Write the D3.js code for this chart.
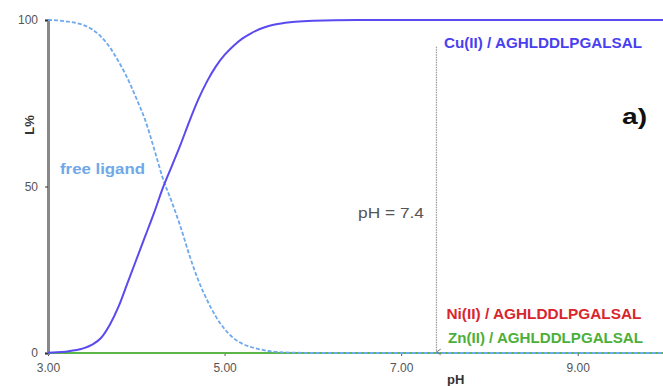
<!DOCTYPE html>
<html>
<head>
<meta charset="UTF-8">
<script src="https://d3js.org/d3.v7.min.js"></script>
<style>
  body { margin: 0; background: #fff; }
  text { font-family: "Liberation Sans", Arial, sans-serif; }
</style>
</head>
<body>
<div id="chart"></div>
<script>

// pH grid and species distribution (% of ligand)
var phValues   = [3.0, 3.1, 3.2, 3.3, 3.4, 3.5, 3.6, 3.7, 3.8, 3.9, 4.0, 4.1, 4.2, 4.3, 4.4, 4.5, 4.6, 4.7, 4.8, 4.9, 5.0, 5.1, 5.2, 5.3, 5.4, 5.5, 5.6, 5.8, 6.0, 6.5, 7.0, 8.0, 9.0, 10.0];
var cuValues   = [0.1, 0.2, 0.4, 0.8, 1.4, 2.5, 4.5, 8.5, 14, 21, 28, 35, 42, 49.5, 56, 62.5, 69.5, 76, 81.5, 86, 89.5, 92.2, 94.4, 96, 97.3, 98.2, 98.8, 99.5, 99.8, 100, 100, 100, 100, 100];
var freeValues = [100, 99.9, 99.6, 99.2, 98.5, 97.2, 95, 91.8, 87.5, 82.5, 76.5, 70, 61.5, 52.5, 45.5, 38, 29.5, 22, 16, 11, 7.2, 4.5, 2.8, 1.8, 1.1, 0.6, 0.3, 0.1, 0, 0, 0, 0, 0, 0];
var niValues   = [0, 0, 0, 0, 0, 0, 0, 0, 0, 0, 0, 0, 0, 0, 0, 0, 0, 0, 0, 0, 0, 0, 0, 0, 0, 0, 0, 0, 0, 0, 0, 0, 0, 0];
var znValues   = [0, 0, 0, 0, 0, 0, 0, 0, 0, 0, 0, 0, 0, 0, 0, 0, 0, 0, 0, 0, 0, 0, 0, 0, 0, 0, 0, 0, 0, 0, 0, 0, 0, 0];

var xTicks = [3, 5, 7, 9];
var yTicks = [0, 50, 100];
var physPH = 7.4;

var margin = {top: 20, right: 0, bottom: 33, left: 48},
    width = 663 - margin.left - margin.right,
    height = 386 - margin.top - margin.bottom;

var svg = d3.select("#chart")
  .append("svg")
    .attr("width", 663)
    .attr("height", 386)
  .append("g")
    .attr("transform", "translate(" + margin.left + "," + margin.top + ")");

var x = d3.scaleLinear().domain([3, 10]).range([0, 618]);
var y = d3.scaleLinear().domain([0, 100]).range([height, 0]);

// x axis (ticks + labels)
var xAxis = svg.append("g")
  .attr("transform", "translate(0," + height + ")")
  .call(d3.axisBottom(x).tickValues(xTicks).tickSize(3).tickFormat(d3.format(".2f")));
xAxis.select(".domain").attr("stroke", "#999");
xAxis.selectAll(".tick line").attr("stroke", "#555");
xAxis.selectAll("text").attr("fill", "#555").style("font-size", "12px").attr("dy", "1.1em");

// y axis
var yAxis = svg.append("g")
  .call(d3.axisLeft(y).tickValues(yTicks).tickSize(3));
yAxis.select(".domain").attr("stroke", "#888").attr("stroke-width", 3);
yAxis.selectAll(".tick line").attr("stroke", "#333");
yAxis.selectAll("text").attr("fill", "#555").style("font-size", "12px").attr("x", -10);

function series(vals) {
  return phValues.map(function(p, i) { return {ph: p, v: vals[i]}; });
}

var line = d3.line()
  .x(function(d) { return x(d.ph); })
  .y(function(d) { return y(d.v); })
  .curve(d3.curveMonotoneX);

svg.append("path").datum(series(niValues))
  .attr("fill", "none").attr("stroke", "#e0303a").attr("stroke-width", 2).attr("d", line);

svg.append("path").datum(series(znValues))
  .attr("fill", "none").attr("stroke", "#5cb548").attr("stroke-width", 2).attr("d", line);

svg.append("path").datum(series(freeValues))
  .attr("fill", "none").attr("stroke", "#6ea9ee").attr("stroke-width", 1.8)
  .attr("stroke-dasharray", "4,2").attr("d", line);

svg.append("path").datum(series(cuValues))
  .attr("fill", "none").attr("stroke", "#5a4af0").attr("stroke-width", 2).attr("d", line);

// pH 7.4 marker
var defs = svg.append("defs");
defs.append("marker")
  .attr("id", "arrow")
  .attr("viewBox", "0 0 10 10")
  .attr("refX", 5).attr("refY", 9)
  .attr("markerWidth", 6).attr("markerHeight", 6)
  .attr("orient", "auto-start-reverse")
  .append("path")
    .attr("d", "M1,3 L5,9 L9,3")
    .attr("fill", "none").attr("stroke", "#666").attr("stroke-width", 1.2);

svg.append("line")
  .attr("x1", x(physPH)).attr("x2", x(physPH))
  .attr("y1", y(92)).attr("y2", y(0) - 1)
  .attr("stroke", "#999").attr("stroke-width", 1.2)
  .attr("stroke-dasharray", "1.5,1")
  .attr("marker-end", "url(#arrow)");

svg.append("text")
  .attr("x", 310).attr("y", 198)
  .attr("fill", "#555").style("font-size", "14px")
  .attr("textLength", 66).attr("lengthAdjust", "spacingAndGlyphs")
  .text("pH = 7.4");

// labels
svg.append("text")
  .attr("x", 396).attr("y", 28)
  .attr("fill", "#4a3ff0").style("font-size", "14.5px").style("font-weight", "bold")
  .attr("textLength", 198).attr("lengthAdjust", "spacingAndGlyphs")
  .text("Cu(II) / AGHLDDLPGALSAL");

svg.append("text")
  .attr("x", 12).attr("y", 154)
  .attr("fill", "#6fa8e8").style("font-size", "15px").style("font-weight", "bold")
  .attr("textLength", 85).attr("lengthAdjust", "spacingAndGlyphs")
  .text("free ligand");

svg.append("text")
  .attr("x", 398.5).attr("y", 299)
  .attr("fill", "#d9262e").style("font-size", "14.5px").style("font-weight", "bold")
  .attr("textLength", 195).attr("lengthAdjust", "spacingAndGlyphs")
  .text("Ni(II) / AGHLDDLPGALSAL");

svg.append("text")
  .attr("x", 400).attr("y", 323)
  .attr("fill", "#4caf3a").style("font-size", "14.5px").style("font-weight", "bold")
  .attr("textLength", 195).attr("lengthAdjust", "spacingAndGlyphs")
  .text("Zn(II) / AGHLDDLPGALSAL");

svg.append("text")
  .attr("x", 574).attr("y", 104)
  .attr("fill", "#111").style("font-size", "22px").style("font-weight", "bold")
  .attr("textLength", 25).attr("lengthAdjust", "spacingAndGlyphs")
  .text("a)");

// axis titles
svg.append("text")
  .attr("x", 399).attr("y", height + 31)
  .attr("fill", "#333").style("font-size", "13px").style("font-weight", "bold")
  .text("pH");

svg.append("text")
  .attr("transform", "translate(-14," + 105 + ") rotate(-90)")
  .attr("text-anchor", "middle")
  .attr("fill", "#333").style("font-size", "13px").style("font-weight", "bold")
  .text("L%");

</script>
</body>
</html>
